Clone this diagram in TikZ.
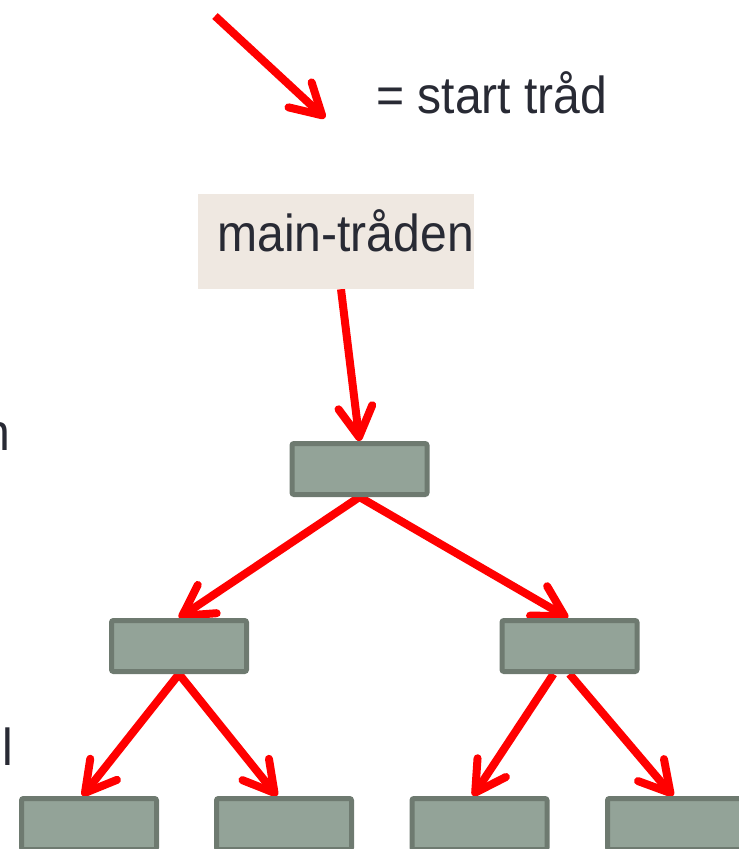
\documentclass[tikz,border=0pt]{standalone}
\usepackage{fontspec}
\usepackage{graphicx}
\setmainfont{Liberation Sans}
\usetikzlibrary{arrows.meta,backgrounds}
\definecolor{inkdark}{HTML}{282A34}
\definecolor{boxfill}{HTML}{93A398}
\definecolor{boxedge}{HTML}{6E7A70}
\definecolor{labelbg}{HTML}{EFE8E1}
% slightly condensed lettering
\newcommand\narrowtxt[1]{\scalebox{0.925}[1]{#1}}
\begin{document}
\begin{tikzpicture}[x=1pt,y=-1pt,
  thread/.style={draw=red, line width=8pt, -{Straight Barb[length=30pt,width=34pt,round]}},
  task/.style={draw=boxedge, fill=boxfill, line width=5pt, rounded corners=2pt,
    minimum width=135pt, minimum height=51pt, inner sep=0pt},
  mainbox/.style={fill=labelbg, minimum width=276pt, minimum height=95pt, inner sep=0pt},
  txt/.style={text=inkdark, font=\fontsize{52}{62}\selectfont, inner sep=0pt, anchor=base west}]
\useasboundingbox (0,0) rectangle (739,849);
\clip (0,0) rectangle (739,849);

% legend
\coordinate (legA) at (215,16);
\coordinate (legB) at (325,118);
\node[txt] (legend) at (376,113) {\narrowtxt{= start tråd}};

% main thread label
\node[mainbox] (main) at (336,241.5) {};
\node[txt] (mainlbl) at (217,251) {\narrowtxt{main-tråden}};

% text running in from the left margin
\node[txt] (edgeN) at (-17,450) {\narrowtxt{n}};
\node[txt] (edgeL) at (2,765) {\narrowtxt{l}};

% task tree
\node[task] (top) at (359.5,469) {};
\node[task] (m1) at (179,646) {};
\node[task] (m2) at (569.5,646) {};
\node[task] (b1) at (89,824) {};
\node[task] (b2) at (284,824) {};
\node[task] (b3) at (479.5,824) {};
\node[task] (b4) at (675,824) {};

\begin{scope}[on background layer]
  \draw[thread] (legA) -- (legB);
  \draw[thread] ([xshift=5pt]main.south) -- (top.north);
  \draw[thread] (top.south) -- (m1.north);
  \draw[thread] (top.south) -- ([xshift=-1.5pt]m2.north);
  \draw[thread] (m1.south) -- ([xshift=-6.5pt]b1.north);
  \draw[thread] (m1.south) -- ([xshift=-7pt]b2.north);
  \draw[thread] ([xshift=-16pt]m2.south) -- ([xshift=-6.5pt]b3.north);
  \draw[thread] (m2.south) -- ([xshift=-2pt]b4.north);
\end{scope}
\end{tikzpicture}
\end{document}
